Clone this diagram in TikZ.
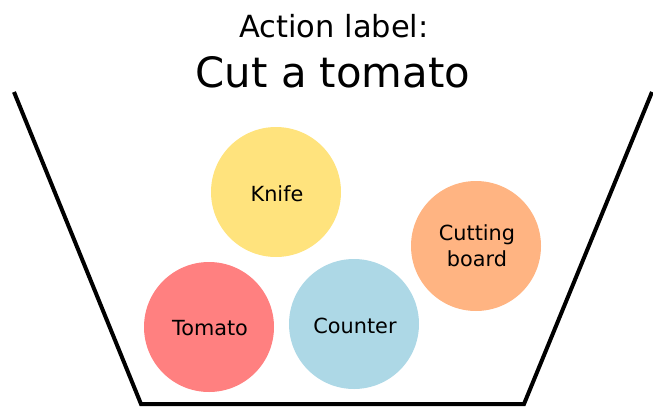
\documentclass[tikz,border=0pt]{standalone}
\usepackage{fontspec}
\setmainfont{DejaVu Sans}
\definecolor{knifec}{RGB}{255,227,125}
\definecolor{boardc}{RGB}{255,180,130}
\definecolor{tomatoc}{RGB}{255,128,128}
\definecolor{counterc}{RGB}{173,216,230}
\tikzset{
  obj/.style={circle, minimum size=130pt, inner sep=0pt, align=center,
    font=\fontsize{20.8}{26}\selectfont},
  objtext/.style={align=center, font=\fontsize{20.8}{26}\selectfont, inner sep=0pt},
  bowl/.style={line width=4pt, line join=miter},
}
\begin{document}
\begin{tikzpicture}[x=1pt,y=-1pt]
\useasboundingbox (0,0) rectangle (653,407);
\node[anchor=base, font=\fontsize{30.5}{35}\selectfont] (title1) at (334,37) {Action label:};
\node[anchor=base, font=\fontsize{41.8}{48}\selectfont] (title2) at (333,87) {Cut a tomato};
\coordinate (tl) at (14,92);
\coordinate (bl) at (141,404);
\coordinate (br) at (524,404);
\coordinate (tr) at (652,92);
\draw[bowl] (tl) -- (bl) -- (br) -- (tr);
\node[obj, fill=knifec] (knife) at (276,192) {};
\node[objtext] (knifet) at (277,194) {Knife};
\node[obj, fill=boardc] (board) at (476,246) {};
\node[objtext] (boardt) at (477,246) {Cutting\\board};
\node[obj, fill=tomatoc] (tomato) at (209,327) {};
\node[objtext] (tomatot) at (210,328) {Tomato};
\node[obj, fill=counterc] (counter) at (354,324) {};
\node[objtext] (countert) at (355,326) {Counter};
\end{tikzpicture}
\end{document}
